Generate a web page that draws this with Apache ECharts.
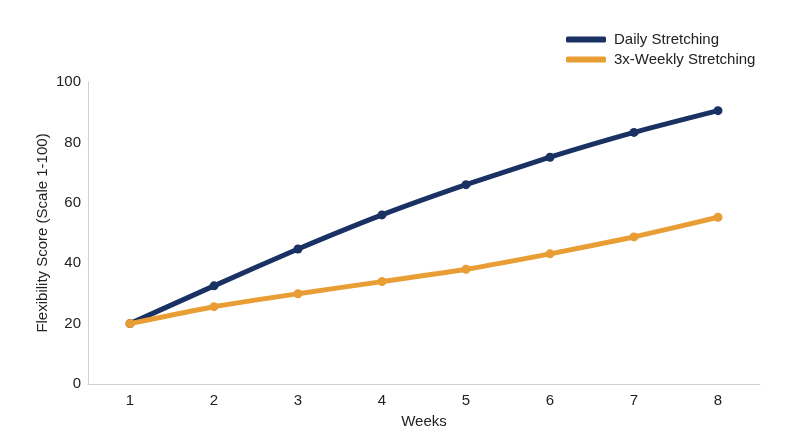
<!DOCTYPE html>
<html><head><meta charset="utf-8">
<script src="https://cdn.jsdelivr.net/npm/echarts@6/dist/echarts.min.js"></script>
<style>html,body{margin:0;padding:0;background:#fff}#c{width:800px;height:447px}</style>
</head><body><div id="c"></div>
<script>
const weeks = ['1','2','3','4','5','6','7','8'];
const daily = [20, 32.5, 44.7, 56, 66, 75.1, 83.3, 90.5];
const weekly3x = [20, 25.6, 29.9, 33.9, 38, 43.1, 48.7, 55.2];
const yTicks = {min: 0, max: 100, interval: 20};
const names = ['Daily Stretching', '3x-Weekly Stretching'];
const colors = ['#1a3263', '#e89e34'];

const chart = echarts.init(document.getElementById('c'));
const font = 'Helvetica, Arial, "Liberation Sans", sans-serif';
chart.setOption({
  animation: false,
  textStyle: {fontFamily: font},
  grid: {left: 88, right: 40, top: 82, bottom: 63},
  legend: {
    orient: 'vertical', left: 561, top: 27, itemGap: 5,
    itemWidth: 40, itemHeight: 6, icon: 'roundRect',
    textStyle: {fontSize: 15, color: '#222', fontFamily: font, padding: [0, 0, 0, 3]},
    data: names
  },
  xAxis: {
    type: 'category', data: weeks, boundaryGap: true,
    name: 'Weeks', nameLocation: 'middle', nameGap: 30,
    nameTextStyle: {fontSize: 15, color: '#222'},
    axisLine: {lineStyle: {color: '#d0d0d0', width: 1}},
    axisTick: {show: false},
    axisLabel: {fontSize: 15, color: '#222', margin: 9},
    splitLine: {show: false}
  },
  yAxis: {
    type: 'value', min: yTicks.min, max: yTicks.max, interval: yTicks.interval,
    name: 'Flexibility Score (Scale 1-100)', nameLocation: 'middle', nameGap: 38,
    nameMoveOverlap: false,
    nameTextStyle: {fontSize: 15, color: '#222'},
    axisLine: {show: true, lineStyle: {color: '#d0d0d0', width: 1}},
    axisTick: {show: false},
    axisLabel: {fontSize: 15, color: '#222', margin: 7},
    splitLine: {show: false}
  },
  series: [
    {name: names[0], type: 'line', data: daily, smooth: 0.2,
     symbol: 'circle', symbolSize: 9, color: colors[0],
     lineStyle: {width: 5, color: colors[0]}, itemStyle: {color: colors[0]}, z: 3},
    {name: names[1], type: 'line', data: weekly3x, smooth: 0.2,
     symbol: 'circle', symbolSize: 9, color: colors[1],
     lineStyle: {width: 5, color: colors[1]}, itemStyle: {color: colors[1]}, z: 4}
  ]
});
</script></body></html>
